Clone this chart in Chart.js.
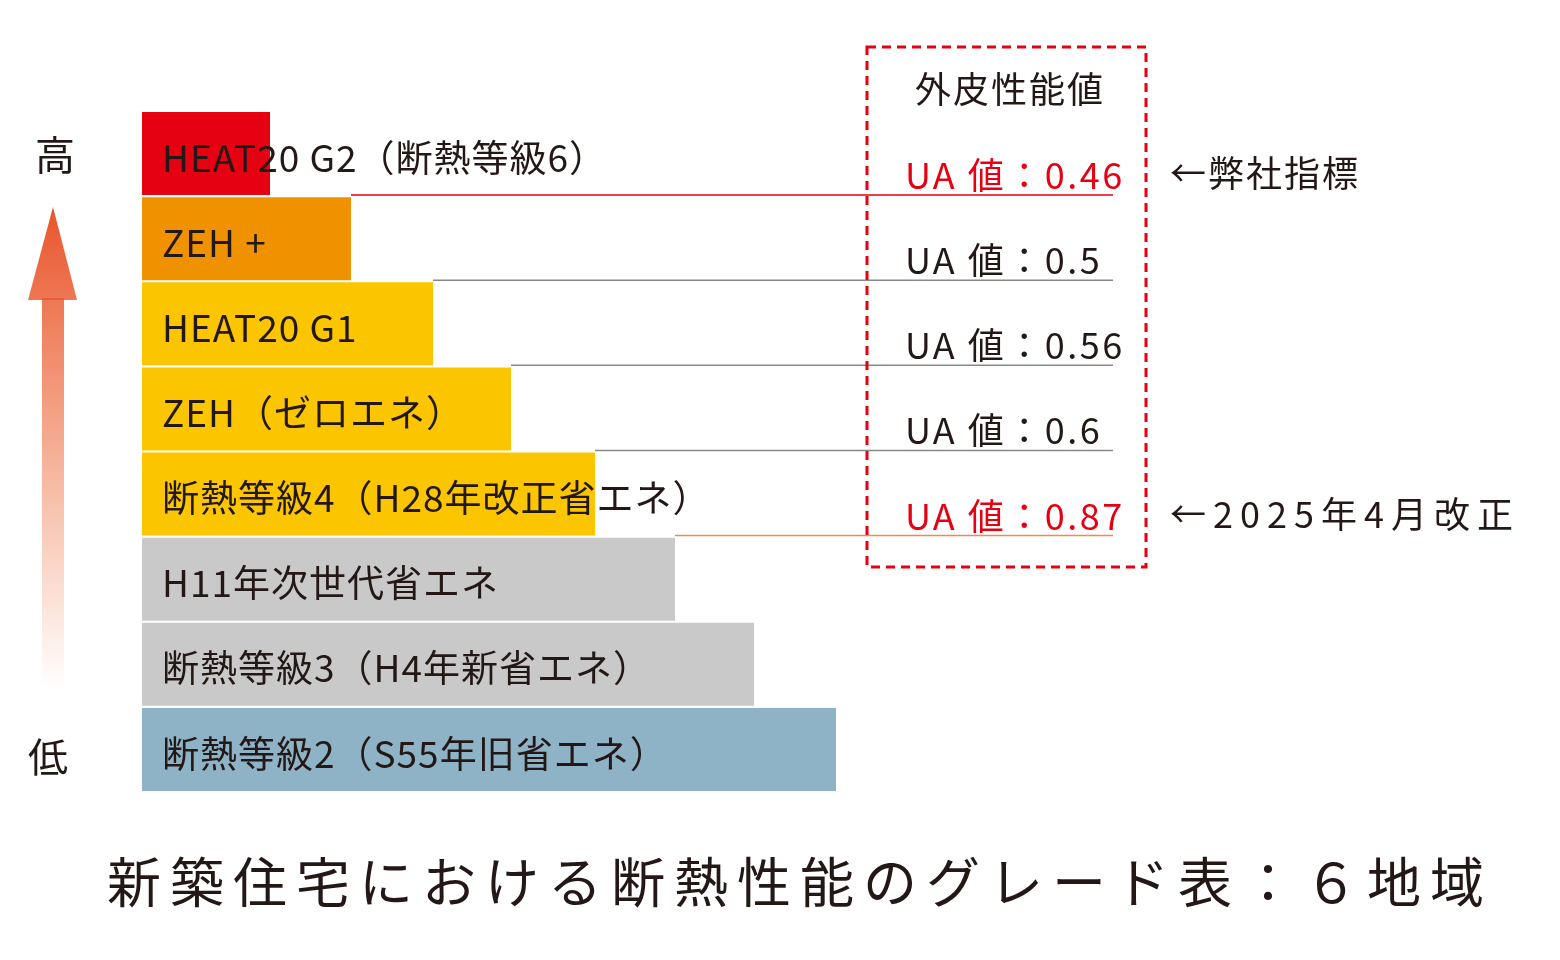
<!DOCTYPE html>
<html><head><meta charset="utf-8">
<script src="https://cdn.jsdelivr.net/npm/chart.js@4"></script>
<style>html,body{margin:0;background:#fff}#w{width:1560px;height:960px}</style>
</head><body><div id="w"><canvas id="c"></canvas></div>
<script>
const categories = ["HEAT20 G2（断熱等級6）","ZEH +","HEAT20 G1","ZEH（ゼロエネ）","断熱等級4（H28年改正省エネ）","H11年次世代省エネ","断熱等級3（H4年新省エネ）","断熱等級2（S55年旧省エネ）"];
const values = [128,209,291,369,453,533,612,694];
const uaLabels = ["UA 値：0.46","UA 値：0.5","UA 値：0.56","UA 値：0.6","UA 値：0.87"];
const notes = ["←弊社指標","","","","←2025年4月改正"];
const barColors = ["#e50012","#f09200","#fbc600","#fbc600","#fbc600","#c9c9c9","#c9c9c9","#8eb3c6"];
const uaColors = ["#e60012","#231815","#231815","#231815","#e60012"];
const lineColors = ["#e60012","#888","#888","#888","#f08a50"];
const FONT = '"Noto Sans CJK JP","Noto Sans",sans-serif';
const deco = {
  id:'deco',
  afterDatasetsDraw(ch){
    const ctx=ch.ctx, meta=ch.getDatasetMeta(0);
    ctx.save();
    ctx.textBaseline='middle'; ctx.fillStyle='#231815';
    ctx.font='37px '+FONT; ctx.letterSpacing='1px';
    meta.data.forEach((b,i)=>{ ctx.fillText(categories[i], b.base+20, b.y+4); });
    meta.data.forEach((b,i)=>{
      if(i>=uaLabels.length) return;
      const yb=b.y+b.height/2;
      ctx.strokeStyle=lineColors[i]; ctx.lineWidth=1.5;
      ctx.beginPath(); ctx.moveTo(meta.data[i+1].x, yb); ctx.lineTo(1113, yb); ctx.stroke();
      ctx.fillStyle=uaColors[i]; ctx.font='36px '+FONT; ctx.textBaseline='alphabetic';
      ctx.letterSpacing='2.5px';
      ctx.fillText(uaLabels[i], 905, yb-6);
      if(notes[i]){ ctx.fillStyle='#231815'; ctx.letterSpacing= i===0?'2px':'7px'; ctx.fillText(notes[i], 1170, yb-8); }
    });
    ctx.letterSpacing='0px';
    ctx.strokeStyle='#e60012'; ctx.lineWidth=3; ctx.setLineDash([9,6]);
    ctx.strokeRect(867,47,279,520); ctx.setLineDash([]);
    ctx.fillStyle='#231815'; ctx.textAlign='center'; ctx.font='36px '+FONT;
    ctx.letterSpacing='2px';
    ctx.fillText('外皮性能値',1010,103);
    const g=ctx.createLinearGradient(0,690,0,205);
    g.addColorStop(0,'rgba(238,100,40,0)'); g.addColorStop(1,'#e8532a');
    ctx.fillStyle=g;
    ctx.fillRect(42,298,22,392);
    ctx.beginPath(); ctx.moveTo(53,207); ctx.lineTo(77,300); ctx.lineTo(28,300); ctx.closePath(); ctx.fill();
    ctx.fillStyle='#231815'; ctx.font='40px '+FONT; ctx.letterSpacing='0px';
    ctx.fillText('高',55,170); ctx.fillText('低',48,772);
    ctx.font='54px '+FONT; ctx.letterSpacing='9px';
    ctx.fillText('新築住宅における断熱性能のグレード表：６地域',800,903);
    ctx.restore();
  }
};
new Chart(document.getElementById('c'),{
  type:'bar',
  data:{labels:categories,datasets:[{data:values,backgroundColor:barColors,categoryPercentage:1,barPercentage:0.975}]},
  options:{indexAxis:'y',responsive:true,maintainAspectRatio:false,animation:false,
    layout:{padding:{left:142,right:418,top:111,bottom:168}},
    plugins:{legend:{display:false},tooltip:{enabled:false}},
    scales:{x:{display:false,min:0,max:1000},y:{display:false}}},
  plugins:[deco]
});
</script></body></html>
